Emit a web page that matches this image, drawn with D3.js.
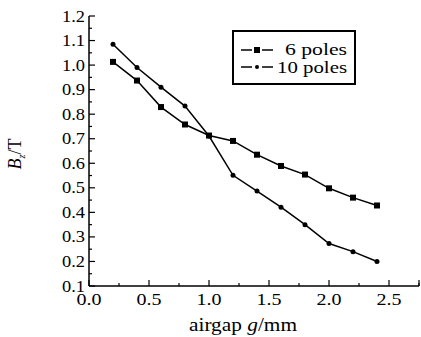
<!DOCTYPE html>
<html>
<head>
<meta charset="utf-8">
<script src="https://cdn.jsdelivr.net/npm/d3@7"></script>
<style>
  body { margin: 0; background: #fff; }
  svg text { font-family: 'Liberation Serif', 'DejaVu Serif', serif; fill: #000; }
</style>
</head>
<body>
<svg id="chart"></svg>
<script>
// airgap values (mm)
const gap = [0.2, 0.4, 0.6, 0.8, 1.0, 1.2, 1.4, 1.6, 1.8, 2.0, 2.2, 2.4];
// Bz in tesla
const poles6 = [1.013, 0.937, 0.829, 0.758, 0.713, 0.691, 0.635, 0.589, 0.554, 0.498, 0.460, 0.428];
const poles10 = [1.085, 0.990, 0.910, 0.833, 0.711, 0.551, 0.487, 0.421, 0.350, 0.273, 0.240, 0.200];
const xTicks = [0.0, 0.5, 1.0, 1.5, 2.0, 2.5];
const yTicks = [0.1, 0.2, 0.3, 0.4, 0.5, 0.6, 0.7, 0.8, 0.9, 1.0, 1.1, 1.2];

const width = 421, height = 337;
const margin = {top: 16, right: 1, bottom: 51, left: 89};
const FONT = "'Liberation Serif', 'DejaVu Serif', serif";

const svg = d3.select('#chart')
    .attr('width', width)
    .attr('height', height)
    .attr('font-family', FONT);

const chart = svg.append('g')
    .attr('transform', `translate(${margin.left},${margin.top})`);

const innerH = height - margin.top - margin.bottom;

const xScale = d3.scaleLinear().domain([0, 2.75]).range([0, 330]);
const yScale = d3.scaleLinear().domain([0.1, 1.2]).range([innerH, 0]);

// minor ticks (inside)
const xMinor = d3.range(0.25, 2.76, 0.5);
const yMinor = d3.range(0.15, 1.2, 0.1);

chart.selectAll('.xminor').data(xMinor).join('line')
    .attr('x1', d => xScale(d)).attr('x2', d => xScale(d))
    .attr('y1', innerH).attr('y2', innerH - 3)
    .attr('stroke', '#000').attr('stroke-width', 1.2);
chart.selectAll('.xmajor').data(xTicks.concat([2.75])).join('line')
    .attr('x1', d => xScale(d)).attr('x2', d => xScale(d))
    .attr('y1', innerH).attr('y2', innerH - 6)
    .attr('stroke', '#000').attr('stroke-width', 1.2);
chart.selectAll('.yminor').data(yMinor).join('line')
    .attr('x1', 0).attr('x2', 3)
    .attr('y1', d => yScale(d)).attr('y2', d => yScale(d))
    .attr('stroke', '#000').attr('stroke-width', 1.2);
chart.selectAll('.ymajor').data(yTicks).join('line')
    .attr('x1', 0).attr('x2', 6)
    .attr('y1', d => yScale(d)).attr('y2', d => yScale(d))
    .attr('stroke', '#000').attr('stroke-width', 1.2);

// axis lines
chart.append('line').attr('x1', 0).attr('x2', xScale(2.75))
    .attr('y1', innerH).attr('y2', innerH)
    .attr('stroke', '#000').attr('stroke-width', 1.5);
chart.append('line').attr('x1', 0).attr('x2', 0)
    .attr('y1', 0).attr('y2', innerH)
    .attr('stroke', '#000').attr('stroke-width', 1.5);

// tick labels
chart.selectAll('.xlab').data(xTicks).join('text')
    .attr('x', d => xScale(d))
    .attr('y', innerH + 19)
    .attr('text-anchor', 'middle')
    .attr('textLength', 25)
    .attr('lengthAdjust', 'spacingAndGlyphs')
    .attr('font-family', FONT)
    .style('font-size', '17px')
    .text(d => d.toFixed(1));
chart.selectAll('.ylab').data(yTicks).join('text')
    .attr('x', -4)
    .attr('y', d => yScale(d) + 5.5)
    .attr('text-anchor', 'end')
    .attr('textLength', 23)
    .attr('lengthAdjust', 'spacingAndGlyphs')
    .attr('font-family', FONT)
    .style('font-size', '17px')
    .text(d => d.toFixed(1));

// axis titles
const xt = svg.append('text')
    .attr('x', 243)
    .attr('y', 331)
    .attr('text-anchor', 'middle')
    .attr('textLength', 108)
    .attr('lengthAdjust', 'spacingAndGlyphs')
    .attr('font-family', FONT)
    .style('font-size', '19px');
xt.append('tspan').text('airgap ');
xt.append('tspan').style('font-style', 'italic').text('g');
xt.append('tspan').text('/mm');

const yt = svg.append('text')
    .attr('transform', 'translate(21,154) rotate(-90)')
    .attr('text-anchor', 'middle')
    .attr('font-family', FONT)
    .style('font-size', '18px');
yt.append('tspan').style('font-style', 'italic').text('B');
yt.append('tspan').attr('dy', 4).style('font-size', '10px').style('font-style', 'italic').text('z');
yt.append('tspan').attr('dy', -4).text('/T');

// series
const line = d3.line().x(d => xScale(d[0])).y(d => yScale(d[1]));
const s6 = gap.map((g, i) => [g, poles6[i]]);
const s10 = gap.map((g, i) => [g, poles10[i]]);

[s6, s10].forEach(s => {
  chart.append('path').datum(s)
      .attr('d', line)
      .attr('fill', 'none')
      .attr('stroke', '#000')
      .attr('stroke-width', 1.5);
});

chart.selectAll('.sq').data(s6).join('rect')
    .attr('x', d => xScale(d[0]) - 3)
    .attr('y', d => yScale(d[1]) - 3)
    .attr('width', 6).attr('height', 6)
    .attr('fill', '#000');
chart.selectAll('.dot').data(s10).join('circle')
    .attr('cx', d => xScale(d[0]))
    .attr('cy', d => yScale(d[1]))
    .attr('r', 2.5)
    .attr('fill', '#000');

// legend
const lg = svg.append('g');
lg.append('rect').attr('x', 233).attr('y', 31).attr('width', 122).attr('height', 53)
    .attr('fill', '#fff').attr('stroke', '#000').attr('stroke-width', 2);
[[50, 54.5, '6 poles', 'sq', 62], [67, 72.5, '10 poles', 'dot', 70]].forEach(([y, ty, label, m, len]) => {
  lg.append('line').attr('x1', 241).attr('x2', 252).attr('y1', y).attr('y2', y)
      .attr('stroke', '#000').attr('stroke-width', 1.5);
  lg.append('line').attr('x1', 262).attr('x2', 273).attr('y1', y).attr('y2', y)
      .attr('stroke', '#000').attr('stroke-width', 1.5);
  if (m === 'sq') {
    lg.append('rect').attr('x', 254).attr('y', y - 3).attr('width', 6).attr('height', 6).attr('fill', '#000');
  } else {
    lg.append('circle').attr('cx', 257).attr('cy', y).attr('r', 2).attr('fill', '#000');
  }
  lg.append('text').attr('x', 347).attr('y', ty)
      .attr('text-anchor', 'end')
      .attr('textLength', len)
      .attr('lengthAdjust', 'spacingAndGlyphs')
      .attr('font-family', FONT)
      .style('font-size', '16px')
      .text(label);
});
</script>
</body>
</html>
